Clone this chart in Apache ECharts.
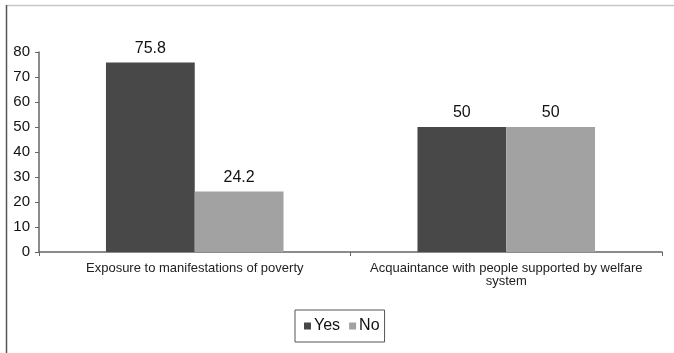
<!DOCTYPE html>
<html>
<head>
<meta charset="utf-8">
<script src="https://cdn.jsdelivr.net/npm/echarts@6/dist/echarts.min.js"></script>
<style>
  html, body { margin: 0; padding: 0; background: #fff; }
  #chart { width: 674px; height: 353px; }
</style>
</head>
<body>
<div id="chart"></div>
<script>
// Survey answers per question (percent)
const categories = [
  'Exposure to manifestations of poverty',
  'Acquaintance with people supported by welfare\nsystem'
];
const yesValues = [75.8, 50];
const noValues = [24.2, 50];
const seriesNames = ['Yes', 'No'];

const FONT = '"Liberation Sans", Arial, sans-serif';

const chart = echarts.init(document.getElementById('chart'), null, { renderer: 'canvas' });

const labelStyle = {
  show: true,
  position: 'top',
  distance: 6,
  color: '#111',
  fontSize: 16,
  fontFamily: FONT
};

chart.setOption({
  animation: false,
  backgroundColor: '#fff',
  textStyle: { fontFamily: FONT },
  graphic: [
    // outer frame: top and left edges
    { type: 'line', shape: { x1: 6, y1: 5.5, x2: 674, y2: 5.5 }, style: { stroke: '#c8c8c8', lineWidth: 1.5 }, silent: true },
    { type: 'line', shape: { x1: 6.5, y1: 5, x2: 6.5, y2: 353 }, style: { stroke: '#555', lineWidth: 1.5 }, silent: true }
  ],
  grid: { left: 39, right: 12, top: 52, bottom: 101, containLabel: false },
  legend: {
    data: seriesNames,
    left: 295,
    top: 310,
    orient: 'horizontal',
    icon: 'rect',
    itemWidth: 7,
    itemHeight: 7,
    itemGap: 9,
    padding: [8, 5, 8, 9],
    borderColor: '#555',
    borderWidth: 1,
    textStyle: { color: '#111', fontSize: 16, fontFamily: FONT, padding: [0, 0, 0, -2] }
  },
  xAxis: {
    type: 'category',
    data: categories,
    axisLine: { lineStyle: { color: '#666', width: 1.5 } },
    axisTick: { show: true, alignWithLabel: false, length: 4, lineStyle: { color: '#666' } },
    axisLabel: {
      color: '#222',
      fontSize: 13,
      fontFamily: FONT,
      margin: 10,
      lineHeight: 13,
      interval: 0
    }
  },
  yAxis: {
    type: 'value',
    min: 0,
    max: 80,
    interval: 10,
    axisLine: { show: true, lineStyle: { color: '#666', width: 1.5 } },
    axisTick: { show: true, length: 4, lineStyle: { color: '#666' } },
    splitLine: { show: false },
    axisLabel: { color: '#111', fontSize: 15, fontFamily: FONT, margin: 9 }
  },
  series: [
    {
      name: seriesNames[0],
      type: 'bar',
      data: yesValues,
      barGap: '0%',
      barCategoryGap: '43%',
      itemStyle: { color: '#484848' },
      label: labelStyle
    },
    {
      name: seriesNames[1],
      type: 'bar',
      data: noValues,
      itemStyle: { color: '#a2a2a2' },
      label: labelStyle
    }
  ]
});
</script>
</body>
</html>
